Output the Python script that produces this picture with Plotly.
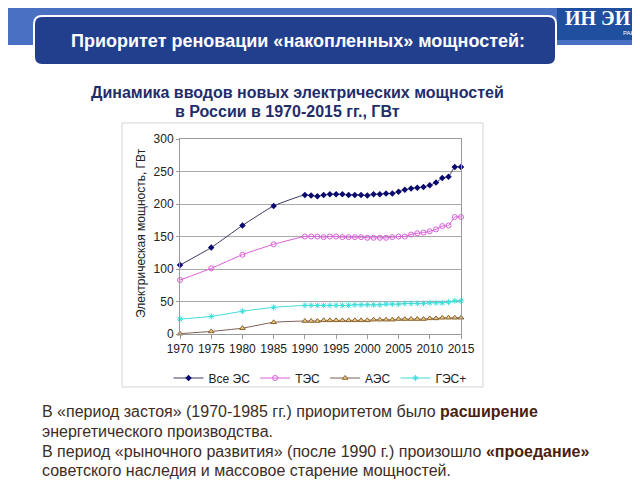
import plotly.graph_objects as go

W, H = 640, 480
OFF = 8  # page body margin, figure starts at (8, 8) in the window
FONT = "Liberation Sans, Arial, sans-serif"

years = [1970, 1975, 1980, 1985] + list(range(1990, 2016))

all_plants = [106, 133, 167, 197,
              214, 213, 212, 214, 215, 215, 215, 214, 214, 214, 213, 215, 215,
              216, 216, 219, 222, 224, 225, 226, 229, 233, 240, 242, 257, 257]
thermal = [83, 101, 122, 138,
           150, 150, 150, 149, 150, 150, 149, 149, 149, 149, 148, 148, 148,
           148, 149, 150, 150, 153, 155, 156, 158, 161, 166, 167, 180, 180]
nuclear = [0.5, 4, 9, 18,
           20, 20, 20, 21, 21, 21, 21, 21, 21, 21, 21, 22, 22,
           22, 22, 23, 23, 23, 23, 23, 24, 24, 25, 25, 25, 25]
hydro = [23, 27, 35, 41,
         44, 44, 44, 44, 44, 44, 44, 44, 45, 45, 45, 45, 45,
         46, 46, 46, 47, 47, 47, 47, 48, 48, 48, 49, 51, 51]

series_names = ["Все ЭС", "ТЭС", "АЭС", "ГЭС+"]


def px(x):
    return (x - OFF) / W


def py(y):
    return 1 - (y - OFF) / H


def rounded_rect(x0, y0, x1, y1, r):
    rx, ry = r / W, r / H
    a, b, c, d = px(x0), py(y0), px(x1), py(y1)
    return (f"M{a + rx},{b} L{c - rx},{b} Q{c},{b} {c},{b - ry} "
            f"L{c},{d + ry} Q{c},{d} {c - rx},{d} L{a + rx},{d} "
            f"Q{a},{d} {a},{d + ry} L{a},{b - ry} Q{a},{b} {a + rx},{b} Z")


fig = go.Figure()
fig.add_trace(go.Scatter(
    x=years, y=all_plants, name=series_names[0], mode="lines+markers",
    line=dict(color="#3a3a66", width=1, shape="spline", smoothing=0.5),
    marker=dict(symbol="diamond", size=5, color="#0a0a6e"), cliponaxis=False))
fig.add_trace(go.Scatter(
    x=years, y=thermal, name=series_names[1], mode="lines+markers",
    line=dict(color="#d95fd9", width=1, shape="spline", smoothing=0.5),
    marker=dict(symbol="circle-open", size=5, color="#d95fd9"), cliponaxis=False))
fig.add_trace(go.Scatter(
    x=years, y=nuclear, name=series_names[2], mode="lines+markers",
    line=dict(color="#7d6058", width=1, shape="spline", smoothing=0.5),
    marker=dict(symbol="triangle-up", size=5, color="#e8cc80",
                line=dict(color="#8a6030", width=1)), cliponaxis=False))
fig.add_trace(go.Scatter(
    x=years, y=hydro, name=series_names[3], mode="lines+markers",
    line=dict(color="#3fdcdc", width=1, shape="spline", smoothing=0.5),
    marker=dict(symbol="asterisk-open", size=5, color="#3fdcdc",
                line=dict(color="#3fdcdc", width=1)), cliponaxis=False))

shapes = [
    # top blue band
    dict(type="rect", xref="paper", yref="paper", x0=0, x1=1, y0=py(45), y1=1,
         fillcolor="#4a70c2", line_width=0, layer="below"),
    # logo box
    dict(type="rect", xref="paper", yref="paper", x0=px(557), x1=1, y0=py(40), y1=1,
         fillcolor="#1f4f9e", line_width=0, layer="below"),
    # title box
    dict(type="path", xref="paper", yref="paper", path=rounded_rect(34, 16, 556, 65, 8),
         fillcolor="#223f8e", line=dict(color="white", width=2), layer="below"),
    # chart frame
    dict(type="rect", xref="paper", yref="paper", x0=px(122), x1=px(483),
         y0=py(387), y1=py(123), fillcolor="white",
         line=dict(color="#d4d4d4", width=1), layer="below"),
]

annotations = [
    dict(text="<b>Приоритет реновации «накопленных» мощностей:</b>",
         x=px(298), y=py(41), font=dict(size=18, color="white", family=FONT)),
    dict(text="<b>ИН ЭИ</b>", x=px(598), y=py(18),
         font=dict(size=20, color="white", family="Liberation Serif, serif")),
    dict(text="РАН", x=px(629), y=py(33), font=dict(size=6, color="white", family=FONT)),
    dict(text="<b>Динамика вводов новых электрических мощностей</b>",
         x=px(297), y=py(92), font=dict(size=16, color="#1f2d6b", family=FONT)),
    dict(text="<b>в России в 1970-2015 гг., ГВт</b>",
         x=px(287), y=py(111), font=dict(size=16, color="#1f2d6b", family=FONT)),
    dict(text="Электрическая мощность, ГВт", textangle=-90,
         x=px(141), y=py(233), font=dict(size=12, color="#222", family=FONT)),
]

TXT = "#3d2d25"
BOLD = "#4a1e10"
body_lines = [
    f"В «период застоя» (1970-1985 гг.) приоритетом было <b><span style='color:{BOLD}'>расширение</span></b>",
    "энергетического производства.",
    f"В период «рыночного развития» (после 1990 г.) произошло <b><span style='color:{BOLD}'>«проедание»</span></b>",
    "советского наследия и массовое старение мощностей.",
]
for line, yy in zip(body_lines, [411, 431, 451, 470]):
    annotations.append(dict(text=line, x=px(40), y=py(yy), xanchor="left",
                            font=dict(size=16, color=TXT, family=FONT)))

for a in annotations:
    a.setdefault("xref", "paper")
    a.setdefault("yref", "paper")
    a.setdefault("xanchor", "center")
    a.setdefault("yanchor", "middle")
    a.setdefault("showarrow", False)

fig.update_layout(
    width=W, height=H, autosize=False,
    margin=dict(l=0, r=0, t=0, b=0, autoexpand=False),
    paper_bgcolor="white", plot_bgcolor="rgba(0,0,0,0)",
    font=dict(family=FONT, size=12, color="#222"),
    shapes=shapes, annotations=annotations,
    showlegend=True,
    legend=dict(orientation="h", x=px(320), xanchor="center", y=py(378), yanchor="middle",
                font=dict(size=12, color="#222", family=FONT), itemwidth=30,
                bgcolor="rgba(0,0,0,0)", tracegroupgap=0),
    xaxis=dict(domain=[px(180), px(461)], range=[1970, 2015], tickmode="linear",
               tick0=1970, dtick=5, showgrid=False, showline=True, mirror=True,
               linecolor="#9a9a9a", linewidth=1, ticks="outside", ticklen=4,
               tickcolor="#9a9a9a", zeroline=False, fixedrange=True, automargin=False),
    yaxis=dict(domain=[py(334), py(139)], range=[0, 300], tickmode="linear",
               tick0=0, dtick=50, showgrid=True, gridcolor="#a8a8a8", gridwidth=1,
               showline=True, mirror=True, linecolor="#9a9a9a", linewidth=1,
               ticks="outside", ticklen=3, tickcolor="#9a9a9a", zeroline=False,
               fixedrange=True, automargin=False),
)

fig.write_html("out.html")
